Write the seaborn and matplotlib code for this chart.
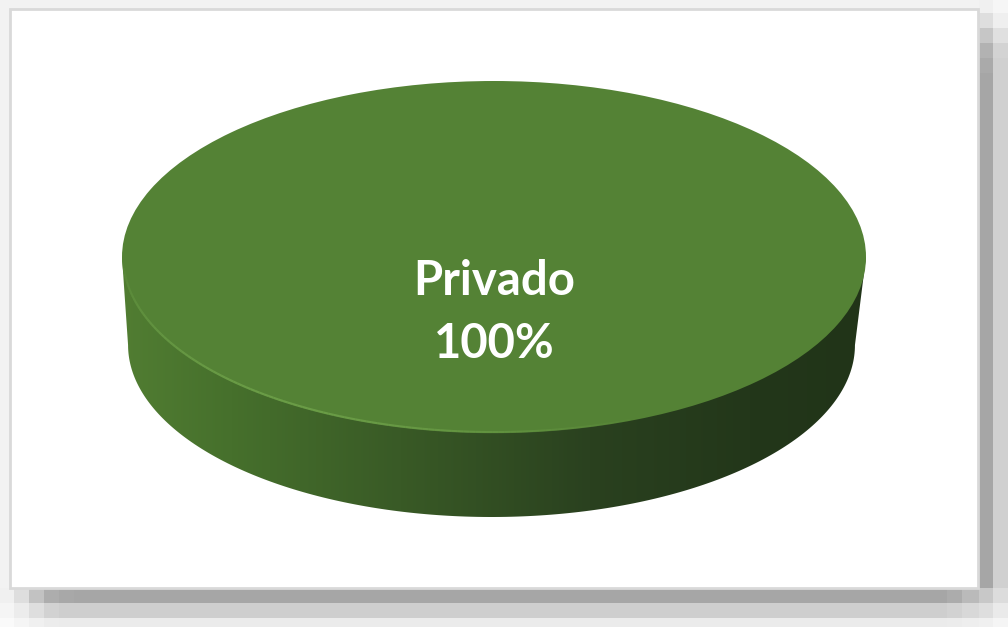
import numpy as np
import matplotlib
matplotlib.use("Agg")
import matplotlib.pyplot as plt
from matplotlib.patches import Polygon, Rectangle
from matplotlib.colors import LinearSegmentedColormap, to_rgba
from matplotlib.collections import LineCollection
import seaborn as sns

# ---- data ----
categories = ["Privado"]
values = [100]
percent_labels = ["100%"]
slice_colors = ["#548235"]

sns.set_theme(style="white")
plt.rcParams['font.family'] = ['Lato', 'DejaVu Sans']

W, H = 1008, 627
fig = plt.figure(figsize=(W / 100, H / 100), dpi=100)

# ---- background, frame and shadow (pixel coordinates) ----
bg = fig.add_axes([0, 0, 1, 1])
bg.set_xlim(0, W)
bg.set_ylim(H, 0)
bg.axis('off')
bg.add_patch(Rectangle((0, 0), W, H, color='#f2f2f2', lw=0))

def blocks_v(x0, x1, edges, cols):
    for (a, b), c in zip(zip(edges[:-1], edges[1:]), cols):
        bg.add_patch(Rectangle((x0, a), x1 - x0, b - a, color=c, lw=0))

def blocks_h(y0, y1, edges, cols):
    for (a, b), c in zip(zip(edges[:-1], edges[1:]), cols):
        bg.add_patch(Rectangle((a, y0), b - a, y1 - y0, color=c, lw=0))

yedges = [0, 13, 28, 43, 58, 73, 588]
blocks_v(979, 993, yedges, ['#f0f0f0', '#dedede', '#c6c6c6', '#b2b2b2', '#aaaaaa', '#a6a6a6'])
blocks_v(993, 1008, yedges, ['#f6f6f6', '#efefef', '#e0e0e0', '#d3d3d3', '#d0d0d0', '#d0d0d0'])
xedges = [0, 14, 29, 44, 59, 74, 947, 962, 979, 993, 1008]
blocks_h(588, 603, xedges, ['#f0f0f0', '#dedede', '#c2c2c2', '#adadad', '#a8a8a8', '#a6a6a6',
                            '#acacac', '#bababa', '#c8c8c8', '#dcdcdc'])
blocks_h(603, 618, xedges, ['#f5f5f5', '#ececec', '#dedede', '#d2d2d2', '#cecece', '#cecece',
                            '#d2d2d2', '#d8d8d8', '#dedede', '#eaeaea'])
blocks_h(618, 627, xedges, ['#fafafa', '#f5f5f5', '#f0f0f0', '#ececec', '#ebebeb', '#ebebeb',
                            '#ececec', '#eeeeee', '#f0f0f0', '#f5f5f5'])
bg.add_patch(Rectangle((10, 9), 968, 579, facecolor='white', edgecolor='#d9d9d9', lw=2))

# ---- 3D-looking pie ----
cx, cy, rx, ry = 494, 257, 372, 176
depth_units = (517 - cy) / ry          # bottom of the disc in axis units
left = (cx - rx) / W
width = 2 * rx / W
bottom = 1 - 517 / H
height = (517 - (cy - ry)) / H
ax = fig.add_axes([left, bottom, width, height])

wedges, _ = ax.pie(values, colors=slice_colors, startangle=90, counterclock=False,
                   wedgeprops=dict(linewidth=0, zorder=3))
ax.set_aspect('auto')
ax.set_xlim(-1, 1)
ax.set_ylim(-depth_units, 1)
ax.axis('off')

# side wall of the disc
bxc, brx = -0.0067, 0.977
bry = brx
byc = -depth_units + bry
t = np.linspace(np.pi, 2 * np.pi, 200)
arc_x = bxc + brx * np.cos(t)
arc_y = byc + bry * np.sin(t)
side_pts = np.vstack([[[-1, 0]], np.column_stack([arc_x, arc_y]), [[1, 0]]])
side = Polygon(side_pts, closed=True, facecolor='none', edgecolor='none', zorder=1)
ax.add_patch(side)

grad_px = [122, 230, 400, 590, 750, 866]
grad_cols = ['#517d32', '#46702c', '#395a26', '#2a411f', '#23371a', '#213418']
pos = [(p - grad_px[0]) / (grad_px[-1] - grad_px[0]) for p in grad_px]
cmap = LinearSegmentedColormap.from_list('side', list(zip(pos, grad_cols)))
grad = np.linspace(0, 1, 512).reshape(1, -1)
im = ax.imshow(grad, cmap=cmap, extent=[-1, 1, -depth_units, 0], aspect='auto',
               origin='lower', zorder=1, interpolation='bilinear')
im.set_clip_path(side)
ax.set_xlim(-1, 1)
ax.set_ylim(-depth_units, 1)

# light bevel highlight along the front edge of the top face
th = np.linspace(np.pi * 1.02, np.pi * 1.62, 120)
hx = 0.997 * np.cos(th)
hy = 0.995 * np.sin(th)
pts = np.column_stack([hx, hy]).reshape(-1, 1, 2)
segs = np.concatenate([pts[:-1], pts[1:]], axis=1)
alphas = np.clip(np.sin(np.linspace(0.15, np.pi - 0.1, len(segs))), 0, 1) * 0.7
base = np.array(to_rgba('#74a84e'))
seg_cols = np.tile(base, (len(segs), 1))
seg_cols[:, 3] = alphas
ax.add_collection(LineCollection(segs, colors=seg_cols, linewidths=1.6, zorder=4))

# labels
ax.text(0, -(295 - cy) / ry, categories[0], ha='center', va='baseline',
        color='white', fontsize=34, fontweight='bold', zorder=5)
ax.text(0, -(358 - cy) / ry, percent_labels[0], ha='center', va='baseline',
        color='white', fontsize=34, fontweight='bold', zorder=5)

fig.savefig('out.png', dpi=100)
